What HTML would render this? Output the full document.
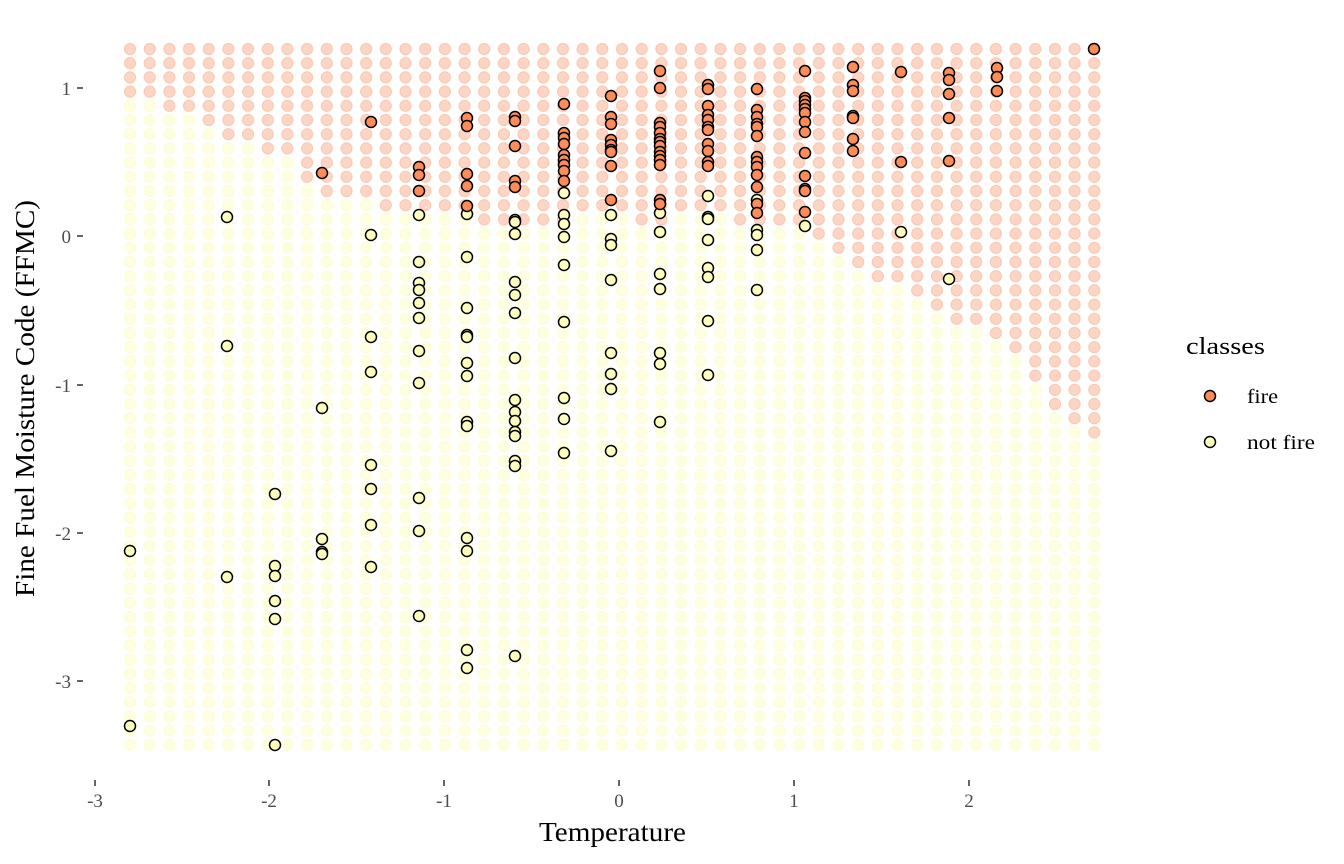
<!DOCTYPE html>
<html><head><meta charset="utf-8"><style>
html,body{margin:0;padding:0;background:#fff}
svg{display:block;font-family:"Liberation Serif",serif}
</style></head><body>
<svg id="s" width="1344" height="864" xmlns="http://www.w3.org/2000/svg">
<g id="bg"></g>
<g id="pts"></g>
<g fill="#4d4d4d" font-size="19" text-anchor="end">
<text x="71" y="95">1</text>
<text x="71" y="243">0</text>
<text x="71" y="392">-1</text>
<text x="71" y="540">-2</text>
<text x="71" y="688">-3</text>
</g>
<g stroke="#333" stroke-width="1.5">
<line x1="77" y1="88" x2="83" y2="88"/>
<line x1="77" y1="236" x2="83" y2="236"/>
<line x1="77" y1="385" x2="83" y2="385"/>
<line x1="77" y1="533" x2="83" y2="533"/>
<line x1="77" y1="681" x2="83" y2="681"/>
<line x1="95" y1="780" x2="95" y2="786"/>
<line x1="269" y1="780" x2="269" y2="786"/>
<line x1="444" y1="780" x2="444" y2="786"/>
<line x1="619" y1="780" x2="619" y2="786"/>
<line x1="794" y1="780" x2="794" y2="786"/>
<line x1="969" y1="780" x2="969" y2="786"/>
</g>
<g fill="#4d4d4d" font-size="19" text-anchor="middle">
<text x="95" y="807">-3</text>
<text x="269" y="807">-2</text>
<text x="444" y="807">-1</text>
<text x="619" y="807">0</text>
<text x="794" y="807">1</text>
<text x="969" y="807">2</text>
</g>
<text x="539" y="841" font-size="27" textLength="147" lengthAdjust="spacingAndGlyphs">Temperature</text>
<text transform="translate(34,597) rotate(-90)" font-size="27" textLength="397" lengthAdjust="spacingAndGlyphs">Fine Fuel Moisture Code (FFMC)</text>
<text x="1186" y="354" font-size="24" textLength="79" lengthAdjust="spacingAndGlyphs">classes</text>
<circle cx="1210" cy="396" r="5.5" fill="#fc8d59" stroke="#000" stroke-width="1.5"/>
<text x="1247" y="403" font-size="20" textLength="31" lengthAdjust="spacingAndGlyphs">fire</text>
<circle cx="1210" cy="442" r="5.5" fill="#ffffbf" stroke="#000" stroke-width="1.5"/>
<text x="1247" y="449" font-size="20" textLength="68" lengthAdjust="spacingAndGlyphs">not fire</text>
</svg>
<script>
var bot=[3,3,4,4,5,6,6,7,7,9,10,10,10,11,11,11,11,11,12,12,12,12,12,11,11,11,12,12,11,11,11,12,12,12,12,13,14,15,16,16,17,18,19,19,20,21,23,25,26,27];
var bg=document.getElementById('bg'),h='';
for(var i=0;i<50;i++){for(var j=0;j<50;j++){var x=130+i*19.68,y=49+j*14.2;var f=j<=bot[i];
h+='<circle cx="'+x.toFixed(1)+'" cy="'+y.toFixed(1)+'" r="5.5" fill="'+(f?'#fdd5c4':'#fefee0')+'" stroke="'+(f?'#fcc9b4':'#fdfdd6')+'" stroke-width="1.2"/>';}}
bg.innerHTML=h;
var D=[
[130,[],[551,726]],
[227,[],[217,346,577]],
[275,[],[494,566,576,601,619,745]],
[322,[173],[408,539,552,554]],
[371,[122],[235,337,372,465,489,525,567]],
[419,[167,175,191],[215,262,283,290,303,318,351,383,498,531,616]],
[467,[118,126,174,186,206],[214,257,308,335,337,363,376,422,426,538,551,650,668]],
[515,[117,121,146,181,187],[220,222,234,282,295,313,358,400,412,421,432,436,461,466,656]],
[564,[104,133,138,144,155,160,165,171,181],[193,215,224,237,265,322,398,419,453]],
[611,[96,117,124,140,145,150,152,166,200],[215,239,245,280,353,374,389,451]],
[660,[71,88,123,127,133,139,142,146,152,156,160,165,200,204],[213,232,274,289,353,364,422]],
[708,[85,89,106,115,120,127,130,144,151,162,166],[196,217,219,240,268,277,321,375]],
[757,[89,110,117,124,127,136,157,162,167,175,187,204,213],[200,230,235,250,290]],
[805,[71,98,101,105,109,113,122,132,153,176,189,191,212],[226]],
[853,[67,85,91,116,118,139,151],[]],
[901,[72,162],[232]],
[949,[73,80,94,118,161],[279]],
[997,[68,77,91],[]],
[1094,[49],[]]];
h='';
D.forEach(function(d){d[2].forEach(function(y){h+='<circle cx="'+d[0]+'" cy="'+y+'" r="5.5" fill="#ffffbf" stroke="#000" stroke-width="1.5"/>';});
d[1].forEach(function(y){h+='<circle cx="'+d[0]+'" cy="'+y+'" r="5.5" fill="#fc8d59" stroke="#000" stroke-width="1.5"/>';});});
document.getElementById('pts').innerHTML=h;
</script>
</body></html>
